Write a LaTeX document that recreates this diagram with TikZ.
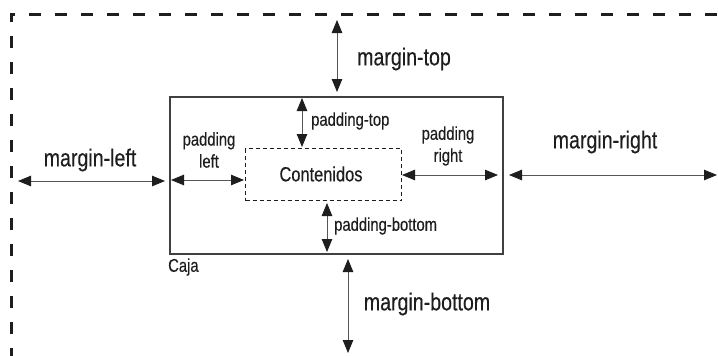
\documentclass[tikz,border=0pt]{standalone}
\usepackage{fontspec}
\setmainfont{Liberation Sans}[FakeStretch=0.8,FakeBold=0.3]
\usetikzlibrary{arrows.meta}
\definecolor{ink}{HTML}{1E1E1E}
\begin{document}
\begin{tikzpicture}[x=1pt,y=-1pt,
  tip/.tip={Triangle[length=13pt,width=10.5pt,color=ink]},
  dim/.style={draw=ink!75, line width=1pt, tip-tip},
  big/.style={font=\fontsize{24.5}{27}\selectfont, text=ink, inner sep=0pt},
  small/.style={font=\fontsize{18.5}{22}\selectfont, text=ink, inner sep=0pt, align=center},
  outer/.style={draw=ink, line width=3pt, dash pattern=on 12pt off 14pt},
  boxline/.style={draw=ink!85, line width=1.5pt},
  inner/.style={draw=ink, line width=1.1pt, dash pattern=on 4pt off 3pt}]
\useasboundingbox (0,0) rectangle (718,356);
% outer margin area
\coordinate (oTL) at (11,14);
\coordinate (oTR) at (722,14);
\coordinate (oBL) at (11,360);
\draw[outer] (oBL) -- (oTL) -- (oTR);
% box
\coordinate (bTL) at (170,97);
\coordinate (bBR) at (503,254);
\draw[boxline] (bTL) rectangle (bBR);
% content
\node[inner, minimum width=156pt, minimum height=52pt, anchor=north west, inner sep=0pt] (cont) at (245,148) {};
\node[font=\fontsize{20.5}{24}\selectfont, text=ink, inner sep=0pt] (contl) at (321,174) {Contenidos};
% margin arrows
\coordinate (mt1) at (337,20); \coordinate (mt2) at (337,92);
\draw[dim] (mt1) -- (mt2);
\coordinate (ml1) at (18,181); \coordinate (ml2) at (165,181);
\draw[dim] (ml1) -- (ml2);
\coordinate (mr1) at (509,175); \coordinate (mr2) at (717,175);
\draw[dim] (mr1) -- (mr2);
\coordinate (mb1) at (348,259); \coordinate (mb2) at (348,353);
\draw[dim] (mb1) -- (mb2);
% padding arrows
\coordinate (pt1) at (302,98); \coordinate (pt2) at (302,147);
\draw[dim] (pt1) -- (pt2);
\coordinate (pl1) at (171,180); \coordinate (pl2) at (244,180);
\draw[dim] (pl1) -- (pl2);
\coordinate (pr1) at (402,175); \coordinate (pr2) at (498,175);
\draw[dim] (pr1) -- (pr2);
\coordinate (pb1) at (327,203); \coordinate (pb2) at (327,252);
\draw[dim] (pb1) -- (pb2);
% labels
\node[big] (lmt) at (404,59) {margin-top};
\node[big] (lml) at (90,160) {margin-left};
\node[big] (lmr) at (605,142) {margin-right};
\node[big] (lmb) at (427,304) {margin-bottom};
\node[small, anchor=west] (lpt) at (311,121) {padding-top};
\node[small] (lpl) at (209,150) {padding\\left};
\node[small] (lpr) at (448,146) {padding\\right};
\node[small, anchor=west] (lpb) at (334,226) {padding-bottom};
\node[small, anchor=west] (lcaja) at (168,267) {Caja};
\end{tikzpicture}
\end{document}
